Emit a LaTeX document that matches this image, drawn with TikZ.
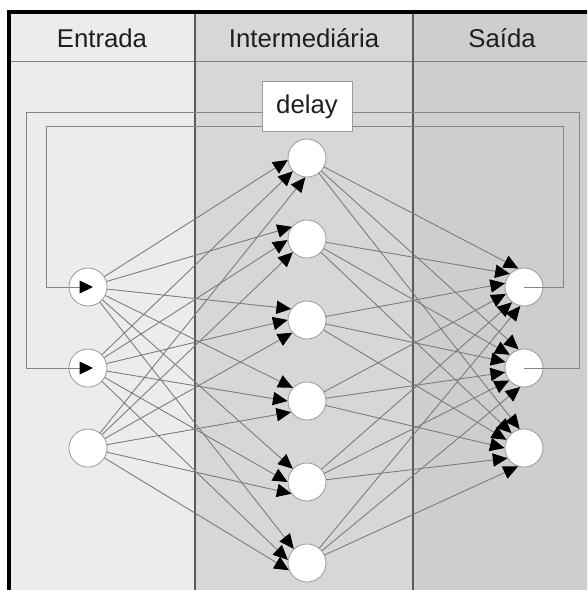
\documentclass[tikz,border=0pt]{standalone}
\usepackage{fontspec}
\setmainfont{Liberation Sans}
\usetikzlibrary{arrows.meta,calc}
\definecolor{colA}{HTML}{ECECEC}
\definecolor{colB}{HTML}{D7D7D7}
\definecolor{colC}{HTML}{CECECE}
\definecolor{linkgray}{HTML}{7A7A7A}
\definecolor{loopgray}{HTML}{858585}
\definecolor{edgegray}{HTML}{9A9A9A}
\definecolor{divgray}{HTML}{5A5A5A}
\definecolor{txt}{HTML}{1E1E1E}
\begin{document}
\begin{tikzpicture}[x=0.75pt,y=-0.75pt,
  neuron/.style={circle,draw=edgegray,line width=0.6pt,fill=white,minimum size=28.5pt,inner sep=0pt},
  link/.style={draw=linkgray,line width=0.65pt,-{Triangle[length=11pt,width=10pt,color=black]}},
  loopline/.style={draw=loopgray,line width=0.7pt},
  header/.style={anchor=base,text=txt,font=\fontsize{19.3pt}{23pt}\selectfont},
  delaybox/.style={draw=edgegray,line width=0.6pt,fill=white,minimum width=67.5pt,minimum height=38pt,inner sep=0pt,text=txt,font=\fontsize{19.3pt}{23pt}\selectfont}]
\useasboundingbox (0,0) rectangle (587,590);
\clip (0,0) rectangle (587,590);

% column backgrounds
\fill[colA] (9,12) rectangle (195,600);
\fill[colB] (195,12) rectangle (413,600);
\fill[colC] (413,12) rectangle (600,600);

% header row and column dividers
\draw[draw=gray,line width=0.7pt] (9,61) -- (600,61);
\draw[draw=divgray,line width=0.8pt] (195,12) -- (195,600);
\draw[draw=divgray,line width=0.8pt] (413,12) -- (413,600);

\node[header] (hA) at (102,47) {Entrada};
\node[header] (hB) at (304,47) {Intermediária};
\node[header] (hC) at (502,47) {Saída};

% neurons
\foreach \k/\y in {1/287,2/368,3/448}
  \node[neuron] (in\k) at (88,\y) {};
\foreach \k/\y in {1/158,2/239,3/320,4/401,5/482,6/563}
  \node[neuron] (hid\k) at (307,\y) {};
\foreach \k/\y in {1/287,2/368,3/448}
  \node[neuron] (out\k) at (524,\y) {};

% recurrent paths through the delay
\coordinate (r1) at (563,287);
\coordinate (t1) at (563,126);
\coordinate (u1) at (46,126);
\coordinate (v1) at (46,287);
\coordinate (r2) at (579,368);
\coordinate (t2) at (579,112);
\coordinate (u2) at (26,112);
\coordinate (v2) at (26,368);
\draw[loopline] (out1.center) -- (r1) -- (t1) -- (u1) -- (v1);
\draw[loopline] (out2.center) -- (r2) -- (t2) -- (u2) -- (v2);
\draw[loopline,-{Triangle[length=10pt,width=9.5pt,color=black]}] (v1) -- ($(in1.center)+(5,0)$);
\draw[loopline,-{Triangle[length=10pt,width=9.5pt,color=black]}] (v2) -- ($(in2.center)+(5,0)$);
\node[delaybox] (delay) at (307,106.5) {delay};

% input -> hidden connections, each ending at its own point of the target's rim
\foreach \j/\a/\b/\c in {1/186/223/265, 2/141/183/223, 3/145/180/221,
                         4/137/180/215, 5/137/180/217, 6/133/171/202} {
  \draw[link] (in1) -- (hid\j.\a);
  \draw[link] (in2) -- (hid\j.\b);
  \draw[link] (in3) -- (hid\j.\c);
}
% hidden -> output connections
\foreach \o/\a/\b/\c/\d/\e/\f in {1/107/137/169/201/232/259,
                                  2/106/137/162/193/220/259,
                                  3/103/130/155/180/212/252} {
  \draw[link] (hid1) -- (out\o.\a);
  \draw[link] (hid2) -- (out\o.\b);
  \draw[link] (hid3) -- (out\o.\c);
  \draw[link] (hid4) -- (out\o.\d);
  \draw[link] (hid5) -- (out\o.\e);
  \draw[link] (hid6) -- (out\o.\f);
}

% outer frame
\draw[line width=2.4pt,black] (9,600) -- (9,12) -- (600,12);
\end{tikzpicture}
\end{document}
